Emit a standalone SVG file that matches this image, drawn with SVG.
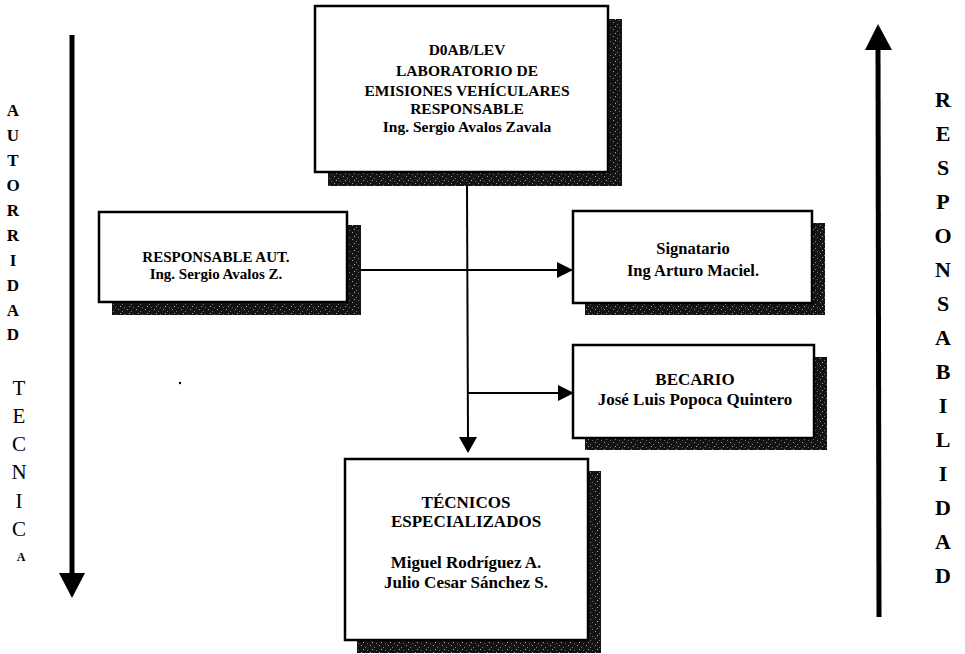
<svg xmlns="http://www.w3.org/2000/svg" width="965" height="654" viewBox="0 0 965 654">
  <style>
    .box { fill: #ffffff; stroke: #000000; stroke-width: 2.5; }
    .shadow { fill: url(#speck); }
    .t { font-family: "Liberation Serif", "Times New Roman", serif; font-weight: bold; fill: #000000; text-anchor: middle; }
    .link { fill: none; stroke: #000000; stroke-width: 2; }
    .axis { fill: none; stroke: #000000; stroke-width: 5; }
    .side { font-family: "Liberation Serif", "Times New Roman", serif; fill: #000000; text-anchor: middle; }
  </style>
  <defs>
    <!-- grainy dark fill used by the drop shadows -->
    <pattern id="speck" width="9" height="7" patternUnits="userSpaceOnUse">
      <rect width="9" height="7" fill="#141414"/>
      <rect x="1" y="1" width="1" height="1" fill="#9a9a9a"/>
      <rect x="5" y="3" width="1" height="1" fill="#7a7a7a"/>
      <rect x="3" y="5" width="1" height="1" fill="#b0b0b0"/>
      <rect x="7" y="6" width="1" height="1" fill="#6a6a6a"/>
    </pattern>
    <marker id="head" viewBox="0 0 16 16" refX="16" refY="8" markerWidth="16" markerHeight="16" markerUnits="userSpaceOnUse" orient="auto">
      <path d="M0,0 L16,8 L0,16 Z" fill="#000000"/>
    </marker>
  </defs>

  <!-- side axes -->
  <g id="autoridad">
    <line class="axis" x1="72" y1="35" x2="72" y2="578"/>
    <path d="M59,573 L85,573 L72,598 Z" fill="#000000"/>
    <g class="side" font-weight="bold" font-size="17">
      <text x="13" y="116">A</text>
      <text x="13" y="141">U</text>
      <text x="13" y="166">T</text>
      <text x="13" y="191">O</text>
      <text x="13" y="216">R</text>
      <text x="13" y="241">R</text>
      <text x="13" y="266">I</text>
      <text x="13" y="291">D</text>
      <text x="13" y="316">A</text>
      <text x="13" y="340">D</text>
    </g>
    <g class="side" font-size="21">
      <text x="19" y="395">T</text>
      <text x="19" y="423">E</text>
      <text x="19" y="451">C</text>
      <text x="19" y="479">N</text>
      <text x="19" y="508">I</text>
      <text x="19" y="536">C</text>
    </g>
    <text class="side" x="21" y="561" font-size="12" font-weight="bold">A</text>
  </g>

  <g id="responsabilidad">
    <line class="axis" x1="878" y1="45" x2="879" y2="617"/>
    <path d="M865,50 L892,50 L878,24 Z" fill="#000000"/>
    <g class="side" font-weight="bold" font-size="22">
      <text x="943" y="107">R</text>
      <text x="943" y="141">E</text>
      <text x="943" y="175">S</text>
      <text x="943" y="209">P</text>
      <text x="943" y="243">O</text>
      <text x="943" y="277">N</text>
      <text x="943" y="311">S</text>
      <text x="943" y="345">A</text>
      <text x="943" y="379">B</text>
      <text x="943" y="413">I</text>
      <text x="943" y="447">L</text>
      <text x="943" y="481">I</text>
      <text x="943" y="515">D</text>
      <text x="943" y="549">A</text>
      <text x="943" y="583">D</text>
    </g>
  </g>

  <!-- connectors -->
  <g id="connectors">
    <line class="link" x1="467" y1="186" x2="468" y2="440"/>
    <path d="M459,437 L477,437 L468,453 Z" fill="#000000"/>
    <line class="link" x1="361" y1="270" x2="573" y2="270" marker-end="url(#head)"/>
    <line class="link" x1="468" y1="393" x2="574" y2="393" marker-end="url(#head)"/>
  </g>

  <!-- nodes -->
  <g id="lev">
    <rect class="shadow" x="328" y="19" width="294" height="167"/>
    <rect class="box" x="315" y="6" width="293" height="166"/>
    <g class="t" font-size="15.5">
      <text x="467" y="55">D0AB/LEV</text>
      <text x="467" y="76">LABORATORIO DE</text>
      <text x="467" y="96">EMISIONES VEHÍCULARES</text>
      <text x="467" y="114">RESPONSABLE</text>
      <text x="467" y="132">Ing. Sergio Avalos Zavala</text>
    </g>
  </g>

  <g id="responsable-aut">
    <rect class="shadow" x="112" y="225" width="249" height="90"/>
    <rect class="box" x="99" y="212" width="248" height="90"/>
    <g class="t" font-size="15">
      <text x="216" y="262">RESPONSABLE AUT.</text>
      <text x="216" y="279">Ing. Sergio Avalos Z.</text>
    </g>
  </g>

  <g id="signatario">
    <rect class="shadow" x="585" y="223" width="240" height="92"/>
    <rect class="box" x="573" y="211" width="239" height="92"/>
    <g class="t" font-size="16.5">
      <text x="693" y="254">Signatario</text>
      <text x="693" y="276">Ing Arturo Maciel.</text>
    </g>
  </g>

  <g id="becario">
    <rect class="shadow" x="585" y="357" width="242" height="93"/>
    <rect class="box" x="573" y="345" width="241" height="93"/>
    <g class="t" font-size="17">
      <text x="695" y="385">BECARIO</text>
      <text x="695" y="405">José Luis Popoca Quintero</text>
    </g>
  </g>

  <g id="tecnicos">
    <rect class="shadow" x="357" y="471" width="244" height="182"/>
    <rect class="box" x="345" y="459" width="243" height="181"/>
    <g class="t" font-size="17">
      <text x="466" y="508">TÉCNICOS</text>
      <text x="466" y="527">ESPECIALIZADOS</text>
      <text x="466" y="568">Miguel Rodríguez A.</text>
      <text x="466" y="588">Julio Cesar Sánchez S.</text>
    </g>
  </g>

  <circle cx="180" cy="383" r="1.2" fill="#000000"/>
</svg>
